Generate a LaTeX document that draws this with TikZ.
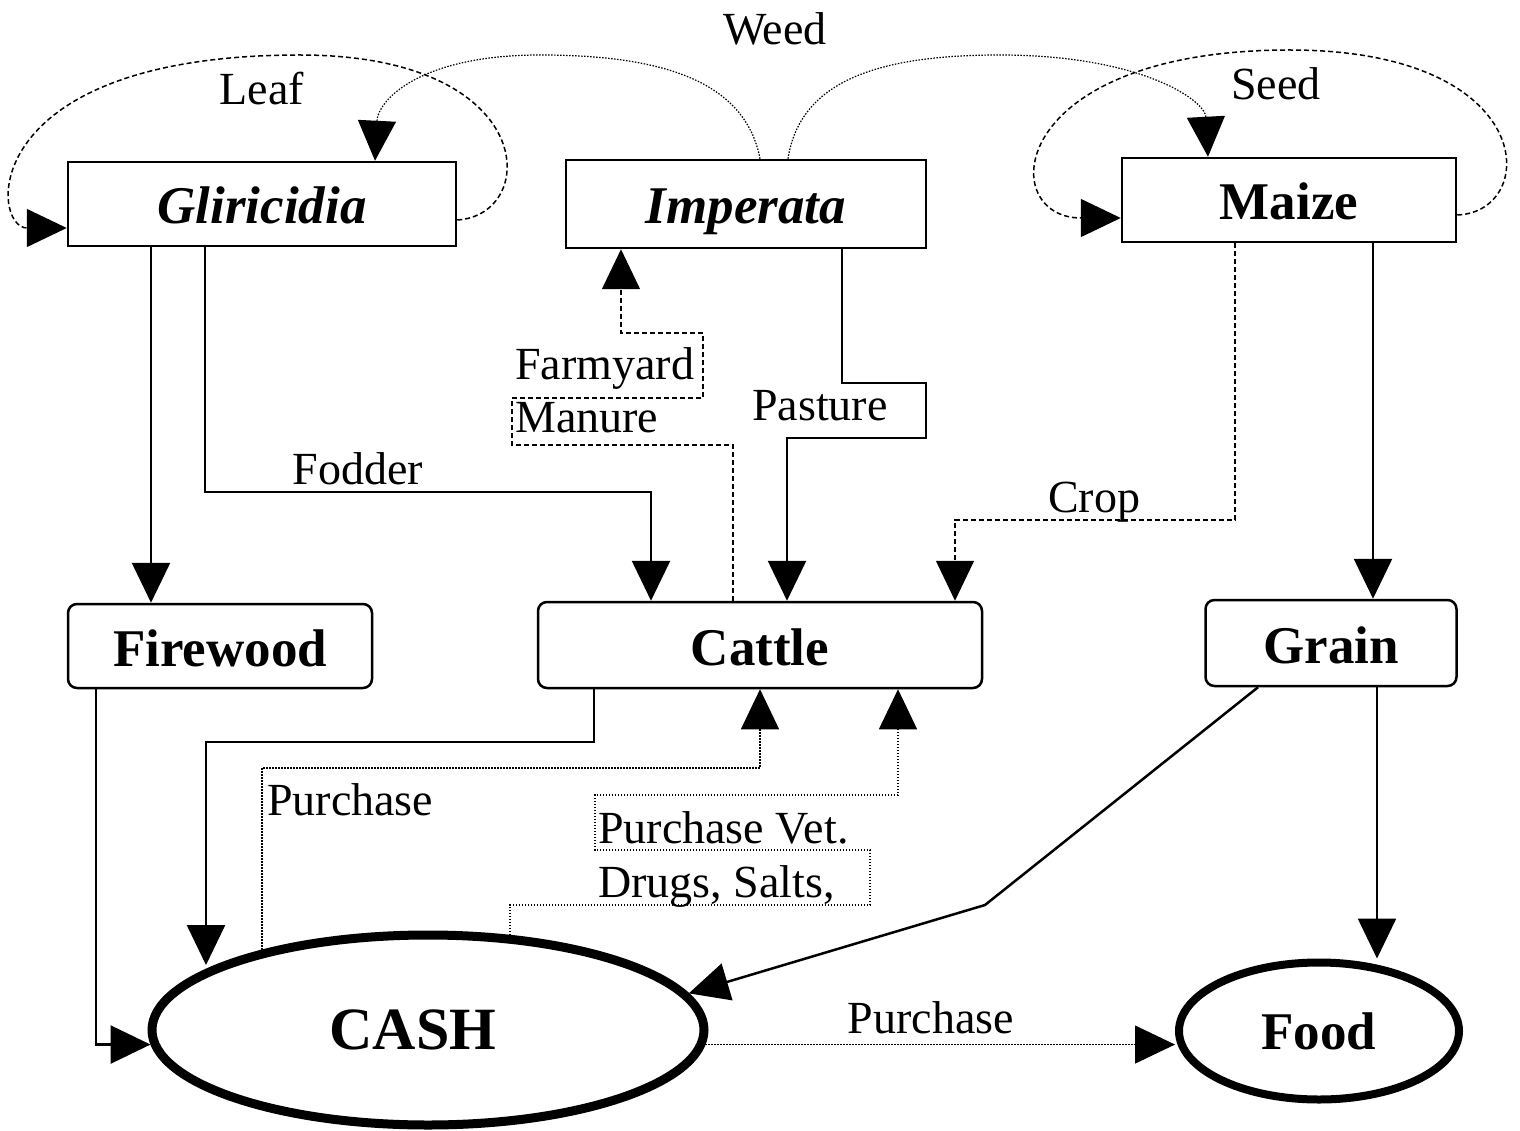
\documentclass[tikz,border=0pt]{standalone}
\usepackage{fontspec}
\setmainfont{Liberation Serif}
\usepackage{tikz}
\usetikzlibrary{shapes.geometric,arrows.meta}
\tikzstyle{caja} = [draw, line width=2.5pt, rectangle, inner sep=0pt, text height=40pt, text depth=0pt, font=\fontsize{53}{56}\selectfont\bfseries]
\tikzstyle{cajaredonda} = [caja, rounded corners=9pt]
\tikzstyle{ovalo} = [draw, line width=9pt, ellipse, inner sep=0pt, font=\fontsize{53}{56}\selectfont\bfseries]
\tikzstyle{etiqueta} = [inner sep=0pt, anchor=base, font=\fontsize{46}{50}\selectfont]
\tikzstyle{flecha} = [line width=2.5pt, -{Triangle[width=38pt,length=40pt]}]
\tikzstyle{trazos} = [flecha, line width=1.5pt, dash pattern=on 5pt off 3pt]
\tikzstyle{puntos} = [flecha, line width=1.2pt, dash pattern=on 1.5pt off 1.5pt]

\begin{document}
\begin{tikzpicture}[x=1pt,y=-1pt]
	\useasboundingbox (0,0) rectangle (1520,1131);
	\node[caja, minimum width=388pt, minimum height=84pt](glir) at (262,204) {\itshape Gliricidia};
	\node[caja, minimum width=360pt, minimum height=88pt](imp) at (746,204) {\itshape Imperata};
	\node[caja, minimum width=334pt, minimum height=84pt](maiz) at (1289,200) {Maize};
	\node[cajaredonda, minimum width=304pt, minimum height=84pt](fire) at (220,646) {Firewood};
	\node[cajaredonda, minimum width=444pt, minimum height=86pt](cattle) at (760,645) {Cattle};
	\node[cajaredonda, minimum width=251pt, minimum height=86pt](grain) at (1331,643) {Grain};
	\node[ovalo, minimum width=552pt, minimum height=190pt, font=\fontsize{60}{64}\selectfont\bfseries](cash) at (428,1030) {\hspace*{-30pt}CASH};
	\node[ovalo, line width=8pt, minimum width=280pt, minimum height=137pt](food) at (1319,1031) {Food};

	\node[etiqueta](weed) at (775,45) {Weed};
	\node[etiqueta](leaf) at (262,105) {Leaf};
	\node[etiqueta](seed) at (1276,100) {Seed};
	\node[etiqueta](fodder) at (358,484) {Fodder};
	\node[etiqueta](pasture) at (820,420) {Pasture};
	\node[etiqueta, anchor=base west](farmyard) at (515,380) {Farmyard};
	\node[etiqueta, anchor=base west](manure) at (515,432) {Manure};
	\node[etiqueta](crop) at (1094,512) {Crop};
	\node[etiqueta, anchor=base west](purchcattle) at (267,815) {Purchase};
	\node[etiqueta, anchor=base west](vet) at (598,843) {Purchase Vet.};
	\node[etiqueta, anchor=base west](drugs) at (598,897) {Drugs, Salts,};
	\node[etiqueta](purchfood) at (931,1033) {Purchase};

	\draw[flecha] (151,0 |- glir.south) -- (151,0 |- fire.north);
	\draw[flecha] (205,0 |- glir.south) |- (651,492) -- (651,0 |- cattle.north);
	\draw[flecha] (842,0 |- imp.south) |- (926,383) |- (787,438) -- (787,0 |- cattle.north);
	\draw[trazos] (733,0 |- cattle.north) |- (512,445) |- (703,398) |- (621,333) -- (621,0 |- imp.south);
	\draw[trazos] (1235,0 |- maiz.south) |- (955,520) -- (955,0 |- cattle.north);
	\draw[flecha] (1373,0 |- maiz.south) -- (1373,0 |- grain.north);
	\draw[flecha] (1377,0 |- grain.south) -- (1377,0 |- food.north);
	\draw[flecha] (1258,0 |- grain.south) -- (985,905) -- (cash.8);
	\draw[flecha] (594,0 |- cattle.south) |- (206,742) -- (206,0 |- cash.163);
	\draw[flecha] (96,0 |- fire.south) |- (cash.183);
	\draw[puntos] (262,0 |- cash.154) |- (760,768) -- (760,0 |- cattle.south);
	\draw[puntos] (510,0 |- cash.48) |- (870,905) |- (595,850) |- (898,795) -- (898,0 |- cattle.south);
	\draw[puntos] (cash.-3) -- (cash.-3 -| food.west);

	\draw[trazos] ([yshift=-16pt]glir.east) .. controls (540,215) and (540,55) .. (300,55) .. controls (-25,55) and (-10,228) .. ([yshift=-24pt]glir.west);
	\draw[trazos] ([yshift=-15pt]maiz.east) .. controls (1540,212) and (1540,50) .. (1290,50) .. controls (1005,50) and (995,218) .. ([yshift=-18pt]maiz.west);
	\draw[puntos] ([xshift=14pt]imp.north) .. controls (745,80) and (660,55) .. (540,55) .. controls (420,55) and (378,100) .. (375,0 |- glir.north);
	\draw[puntos] ([xshift=42pt]imp.north) .. controls (800,80) and (880,55) .. (1000,55) .. controls (1140,55) and (1205,100) .. (1208,0 |- maiz.north);
\end{tikzpicture}
\end{document}
